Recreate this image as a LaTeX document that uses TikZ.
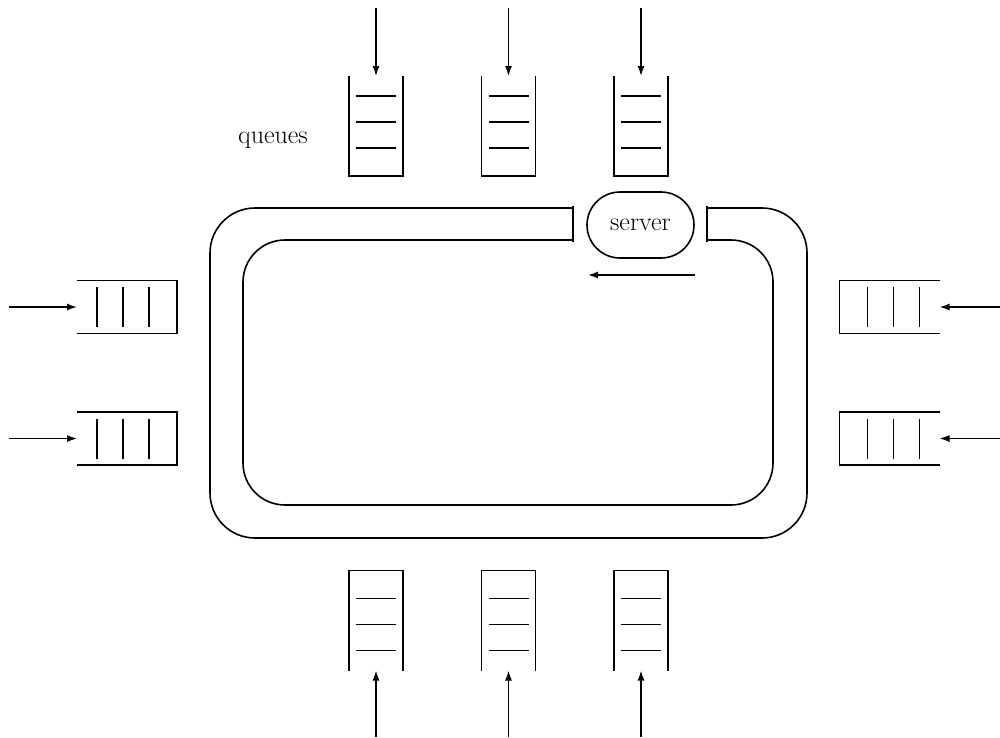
\documentclass[tikz,border=0pt]{standalone}
\usetikzlibrary{arrows.meta,shapes.misc}
\begin{document}
\begin{tikzpicture}[x=1pt,y=-1pt,
  qbox/.style={draw=none,inner sep=0pt,outer sep=0pt},
  qline/.style={line width=1.6pt},
  loopline/.style={line width=1.6pt},
  arr/.style={line width=1.4pt,-{Latex[length=10pt,width=7pt]}},
  lbl/.style={font=\fontsize{26}{30}\selectfont,inner sep=0pt}]
\useasboundingbox (0,0) rectangle (1000,737);
% loop
\draw[loopline,rounded corners=45] (573,208) -- (210,208) -- (210,538) -- (807,538) -- (807,208) -- (707,208);
\draw[loopline,rounded corners=42] (573,240) -- (243,240) -- (243,505) -- (773,505) -- (773,240) -- (707,240);
\draw[loopline] (573,206.2) -- (573,241.8);
\draw[loopline] (707,206.2) -- (707,241.8);
% server
\node[draw,line width=1.6pt,rounded rectangle,minimum width=107pt,minimum height=66pt,inner sep=0pt,lbl] (server) at (640.5,225) {server};
\coordinate (sa) at (695,275);
\coordinate (sb) at (588,275);
\draw[arr] (sa) -- (sb);
% label
\node[lbl,anchor=base west] (qlabel) at (238,143) {queues};
% top queues
\foreach \x [count=\i] in {376,508.5,641} {
  \node[qbox,minimum width=54pt,minimum height=100pt] (qt\i) at (\x,126) {};
  \draw[qline] (qt\i.north west) -- (qt\i.south west) -- (qt\i.south east) -- (qt\i.north east);
  \foreach \d in {20,46,72}
    \draw[qline] ([xshift=-20pt,yshift=-\d pt]qt\i.north) -- ([xshift=20pt,yshift=-\d pt]qt\i.north);
  \coordinate (at\i) at (\x,8);
  \draw[arr] (at\i) -- (qt\i.north);
}
% bottom queues
\foreach \x [count=\i] in {376,508.5,641} {
  \node[qbox,minimum width=54pt,minimum height=100pt] (qb\i) at (\x,620.5) {};
  \draw[qline] (qb\i.south west) -- (qb\i.north west) -- (qb\i.north east) -- (qb\i.south east);
  \foreach \d in {20,46,72}
    \draw[qline] ([xshift=-20pt,yshift=\d pt]qb\i.south) -- ([xshift=20pt,yshift=\d pt]qb\i.south);
  \coordinate (ab\i) at (\x,737);
  \draw[arr] (ab\i) -- (qb\i.south);
}
% left queues
\foreach \y [count=\i] in {307,438.5} {
  \node[qbox,minimum width=100pt,minimum height=53pt] (ql\i) at (127,\y) {};
  \draw[qline] (ql\i.north west) -- (ql\i.north east) -- (ql\i.south east) -- (ql\i.south west);
  \foreach \d in {20,46,72}
    \draw[qline] ([xshift=\d pt,yshift=20pt]ql\i.west) -- ([xshift=\d pt,yshift=-20pt]ql\i.west);
  \coordinate (al\i) at (9,\y);
  \draw[arr] (al\i) -- (ql\i.west);
}
% right queues
\foreach \y [count=\i] in {307,438.5} {
  \node[qbox,minimum width=100pt,minimum height=53pt] (qr\i) at (889.5,\y) {};
  \draw[qline] (qr\i.north east) -- (qr\i.north west) -- (qr\i.south west) -- (qr\i.south east);
  \foreach \d in {20,46,72}
    \draw[qline] ([xshift=-\d pt,yshift=20pt]qr\i.east) -- ([xshift=-\d pt,yshift=-20pt]qr\i.east);
  \coordinate (ar\i) at (1000,\y);
  \draw[arr] (ar\i) -- (qr\i.east);
}
\end{tikzpicture}
\end{document}
